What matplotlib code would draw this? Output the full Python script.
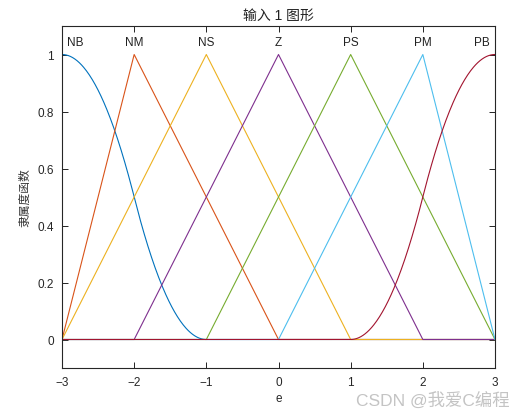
import numpy as np
import matplotlib
matplotlib.use("Agg")
import matplotlib.pyplot as plt

plt.rcParams['font.family'] = ['Liberation Sans', 'Noto Sans CJK SC', 'DejaVu Sans']

# 隶属度函数参数
mf_names = ["NB", "NM", "NS", "Z", "PS", "PM", "PB"]
mf_types = ["zmf", "trimf", "trimf", "trimf", "trimf", "trimf", "smf"]
mf_params = [[-3, -1], [-3, -2, 0], [-3, -1, 1], [-2, 0, 2], [-1, 1, 3], [0, 2, 3], [1, 3]]
label_x = [-2.82, -2, -1, 0, 1, 2, 2.82]
colors = ["#0072BD", "#D95319", "#EDB120", "#7E2F8E", "#77AC30", "#4DBEEE", "#A2142F"]
x_ticks = [-3, -2, -1, 0, 1, 2, 3]
y_ticks = [0, 0.2, 0.4, 0.6, 0.8, 1]


def trimf(x, p):
    a, b, c = p
    left = np.where(b > a, (x - a) / (b - a + 1e-12), 1.0)
    right = np.where(c > b, (c - x) / (c - b + 1e-12), 1.0)
    return np.clip(np.minimum(left, right), 0, 1)


def smf(x, p):
    a, b = p
    m = (a + b) / 2
    y = np.zeros_like(x)
    y = np.where(x <= a, 0, y)
    y = np.where((x > a) & (x <= m), 2 * ((x - a) / (b - a)) ** 2, y)
    y = np.where((x > m) & (x < b), 1 - 2 * ((x - b) / (b - a)) ** 2, y)
    y = np.where(x >= b, 1, y)
    return y


def zmf(x, p):
    return 1 - smf(x, p)


x = np.linspace(-3, 3, 601)
funcs = {"trimf": trimf, "smf": smf, "zmf": zmf}

fig = plt.figure(figsize=(5.23, 4.14), dpi=100)
ax = fig.add_axes([62 / 523, 45 / 414, 433 / 523, 342 / 414])

for name, t, p, c in zip(mf_names, mf_types, mf_params, colors):
    ax.plot(x, funcs[t](x, p), color=c, lw=0.8)

for name, lx in zip(mf_names, label_x):
    ax.text(lx, 1.045, name, ha="center", va="center", fontsize=8.5, color="#222222")

ax.set_xlim(-3, 3)
ax.set_ylim(-0.1, 1.1)
ax.set_xticks(x_ticks)
ax.set_yticks(y_ticks)
ax.set_yticklabels(["0", "0.2", "0.4", "0.6", "0.8", "1"])
ax.tick_params(direction="in", length=4, width=0.6, labelsize=8.5, top=True, right=True,
               pad=6, labelcolor="#262626")
for s in ax.spines.values():
    s.set_linewidth(0.8)
    s.set_color("#262626")

ax.set_title("输入 1 图形", fontsize=10, pad=5, color="#222222")
ax.set_xlabel("e", fontsize=8.5, labelpad=3, color="#262626")
ax.set_ylabel("隶属度函数", fontsize=8.5, labelpad=4, color="#333333",
              family=["Noto Sans CJK SC"])

# 水印
fig.text(0.975, 0.032, "CSDN @我爱C编程", ha="right", va="center", fontsize=12.5,
         color="#c4c4c4")

fig.savefig("out.png", dpi=100)
